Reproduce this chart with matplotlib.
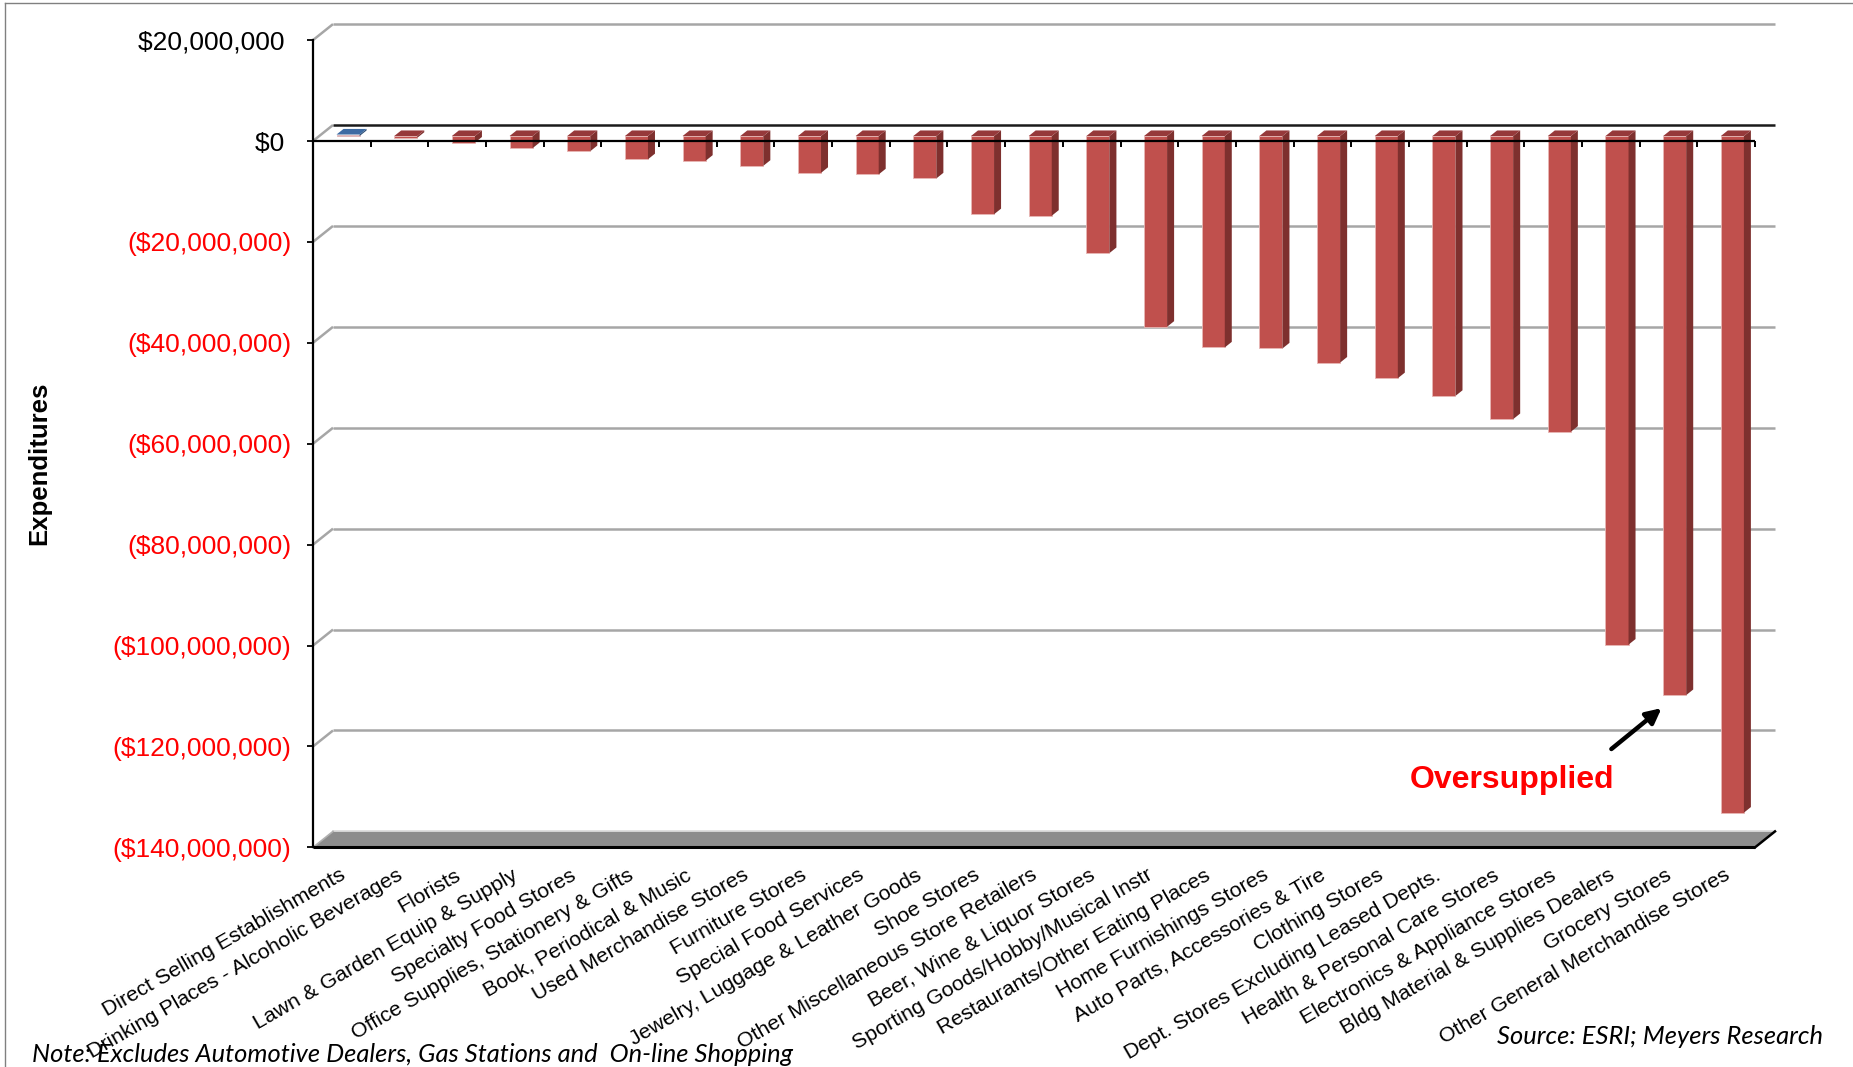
import matplotlib
matplotlib.use("Agg")
import matplotlib.pyplot as plt
import matplotlib.transforms as mtransforms
from matplotlib.patches import Polygon
from matplotlib.lines import Line2D
from matplotlib.ticker import FuncFormatter
import numpy as np

# ---------------- data ----------------
categories = [
    "Direct Selling Establishments",
    "Drinking Places - Alcoholic Beverages",
    "Florists",
    "Lawn & Garden Equip & Supply",
    "Specialty Food Stores",
    "Office Supplies, Stationery & Gifts",
    "Book, Periodical & Music",
    "Used Merchandise Stores",
    "Furniture Stores",
    "Special Food Services",
    "Jewelry, Luggage & Leather Goods",
    "Shoe Stores",
    "Other Miscellaneous Store Retailers",
    "Beer, Wine & Liquor Stores",
    "Sporting Goods/Hobby/Musical Instr",
    "Restaurants/Other Eating Places",
    "Home Furnishings Stores",
    "Auto Parts, Accessories & Tire",
    "Clothing Stores",
    "Dept. Stores Excluding Leased Depts.",
    "Health & Personal Care Stores",
    "Electronics & Appliance Stores",
    "Bldg Material & Supplies Dealers",
    "Grocery Stores",
    "Other General Merchandise Stores",
]
values = [
    300_000, -350_000, -1_300_000, -2_400_000, -3_000_000,
    -4_600_000, -4_900_000, -5_900_000, -7_300_000, -7_600_000,
    -8_400_000, -15_500_000, -15_800_000, -23_200_000, -37_800_000,
    -41_900_000, -42_100_000, -44_900_000, -48_000_000, -51_500_000,
    -56_100_000, -58_600_000, -100_800_000, -110_800_000, -134_100_000,
]
y_ticks = [20_000_000, 0, -20_000_000, -40_000_000, -60_000_000,
           -80_000_000, -100_000_000, -120_000_000, -140_000_000]
y_label = "Expenditures"
note_text = "Note: Excludes Automotive Dealers, Gas Stations and  On-line Shopping"
source_text = "Source: ESRI; Meyers Research"
callout_text = "Oversupplied"
callout_index = categories.index("Grocery Stores")

# ---------------- styling ----------------
W, H = 1853, 1067
fig = plt.figure(figsize=(W / 100, H / 100), dpi=100)
fig.patch.set_facecolor("white")

ymin, ymax = min(y_ticks), max(y_ticks)
n = len(categories)
ax = fig.add_axes([313 / W, 1 - 847.4 / H, (1755 - 313) / W, (847.4 - 40.1) / H])
ax.set_xlim(-0.5, n - 0.5)
ax.set_ylim(ymin, ymax)
ax.set_facecolor("none")

bbox = ax.get_window_extent()
px_x = bbox.width / n
px_y = bbox.height / (ymax - ymin)
DEPTH_DX, DEPTH_DY = 20.0, 16.0           # pixel depth of the 3-D box
ddx, ddy = DEPTH_DX / px_x, DEPTH_DY / px_y


def P(x, y, d):
    return (x + d * ddx, y + d * ddy)


grid_col = "#a6a6a6"
# back wall gridlines + left wall diagonals
for v in y_ticks:
    if v == ymin:
        continue
    pts = [P(-0.5, v, 0), P(-0.5, v, 1)]
    ax.plot(*zip(*pts), color=grid_col, lw=1.8, clip_on=False, zorder=1,
            solid_capstyle="butt")
    pts = [P(-0.5, v, 1), P(n - 0.5, v, 1)]
    ax.plot(*zip(*pts), color=("#1a1a1a" if v == 0 else grid_col),
            lw=1.8, clip_on=False, zorder=1, solid_capstyle="butt")

# floor
floor = Polygon([P(-0.5, ymin, 0), P(n - 0.5, ymin, 0), P(n - 0.5, ymin, 1),
                 P(-0.5, ymin, 1)], closed=True, facecolor="#8c8c8c",
                edgecolor="none", clip_on=False, zorder=1)
ax.add_patch(floor)
ax.plot(*zip(P(-0.5, ymin, 1), P(n - 0.5, ymin, 1)), color="#d9d9d9", lw=1.2,
        clip_on=False, zorder=1)
ax.plot(*zip(P(-0.5, ymin, 0), P(-0.5, ymin, 1)), color="#b0b0b0", lw=1.2,
        clip_on=False, zorder=1)
ax.plot(*zip(P(n - 0.5, ymin, 0), P(n - 0.5, ymin, 1)), color="black", lw=1.8,
        clip_on=False, zorder=2)
ax.plot(*zip(P(-0.5, ymin, 0), P(n - 0.5, ymin, 0)), color="black", lw=2.2,
        clip_on=False, zorder=2, solid_capstyle="butt")

# bars (3-D look)
bw, d0, d1 = 0.40, 0.31, 0.66
xs = np.arange(n)
front_cols, top_cols, side_cols = [], [], []
for v in values:
    if v >= 0:
        front_cols.append("#4F81BD"); top_cols.append("#3D6BA3"); side_cols.append("#2C4D74")
    else:
        front_cols.append("#C0504D"); top_cols.append("#96393A"); side_cols.append("#7E302E")

ax.bar(xs + d0 * ddx, values, width=bw, bottom=d0 * ddy, color=front_cols,
       edgecolor="#e8b7b5", linewidth=0.6, zorder=3)
for x, v, tc, sc in zip(xs, values, top_cols, side_cols):
    yt = max(v, 0)
    top = Polygon([P(x - bw / 2, yt, d0), P(x + bw / 2, yt, d0),
                   P(x + bw / 2, yt, d1), P(x - bw / 2, yt, d1)],
                  closed=True, facecolor=tc, edgecolor="none", zorder=3)
    side = Polygon([P(x + bw / 2, 0, d0), P(x + bw / 2, v, d0),
                    P(x + bw / 2, v, d1), P(x + bw / 2, 0, d1)],
                   closed=True, facecolor=sc, edgecolor="none", zorder=3)
    ax.add_patch(side)
    ax.add_patch(top)

# front zero axis with downward ticks at category boundaries
ax.plot([-0.5, n - 0.5], [0, 0], color="black", lw=1.6, zorder=6,
        solid_capstyle="butt")
ax.plot(xs + 0.5, np.zeros(n), ls="none", marker=3, ms=4.5, mew=1.4,
        color="black", zorder=6, clip_on=False)

# spines / y axis
for s in ["top", "right", "bottom"]:
    ax.spines[s].set_visible(False)
ax.spines["left"].set_color("black")
ax.spines["left"].set_linewidth(1.6)
ax.spines["left"].set_zorder(7)


def money(v, pos=None):
    if v < 0:
        return "(${:,.0f})".format(-v)
    return "${:,.0f} ".format(v)


ax.set_yticks(y_ticks)
ax.yaxis.set_major_formatter(FuncFormatter(money))
ax.tick_params(axis="y", length=4.5, width=1.3, pad=11, labelsize=19,
               direction="out", color="black")
for lab, v in zip(ax.get_yticklabels(), y_ticks):
    lab.set_fontfamily("Liberation Sans")
    lab.set_color("red" if v < 0 else "black")

# category labels
ax.set_xticks(xs)
ax.set_xticklabels(categories, rotation=30, ha="right", va="top",
                   rotation_mode="anchor", fontsize=15.4,
                   fontfamily="Liberation Sans")
ax.tick_params(axis="x", length=0, pad=13.0)
shift = mtransforms.ScaledTranslation(-3 / 100, 0, fig.dpi_scale_trans)
for lab in ax.get_xticklabels():
    lab.set_transform(lab.get_transform() + shift)

# y axis title
fig.text(39 / W, 1 - 463 / H, y_label, rotation=90, ha="center", va="center",
         fontsize=18.5, fontweight="bold", fontfamily="Liberation Sans")

# callout
gv = values[callout_index]
ax.annotate("", xy=(callout_index - 0.12, gv - 1.6e6),
            xytext=(callout_index - 0.99, gv - 9.7e6),
            arrowprops=dict(arrowstyle="-|>,head_length=0.9,head_width=0.45",
                            color="black", lw=3.2, shrinkA=0, shrinkB=0),
            zorder=8)
ax.text(20.29, -126.6e6, callout_text, color="red", fontsize=23,
        fontweight="bold", ha="center", va="center",
        fontfamily="Liberation Sans", zorder=8)

# note & source
fig.text(32 / W, 1 - 1055 / H, note_text, ha="left", va="center",
         fontsize=18.4, style="italic", fontfamily="Lato")
fig.text(1823 / W, 1 - 1036 / H, source_text, ha="right", va="center",
         fontsize=18.4, style="italic", fontfamily="Lato")

# outer frame
fig.add_artist(Line2D([5 / W, 5 / W], [0, 1 - 3 / H], color="#808080", lw=1.0))
fig.add_artist(Line2D([5 / W, 1], [1 - 3 / H, 1 - 3 / H], color="#808080", lw=1.0))

fig.savefig("out.png", dpi=100, facecolor="white")
